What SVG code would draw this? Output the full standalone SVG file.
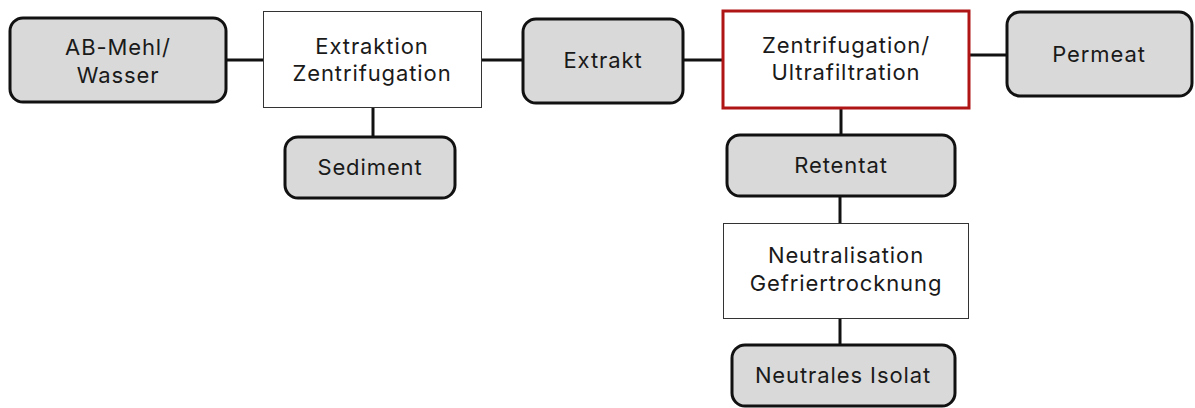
<svg xmlns="http://www.w3.org/2000/svg" width="1195" height="408" viewBox="0 0 1195 408">
<style>
.r{fill:#d9d9d9;stroke:#111;stroke-width:3}
.b{fill:#fff;stroke:#333;stroke-width:1}
.red{fill:#fff;stroke:#b01515;stroke-width:3}
text{font-family:Inter,"Open Sans",sans-serif;font-size:22px;letter-spacing:0.9px;fill:#1a1a1a;text-anchor:middle}
.c line{stroke:#111;stroke-width:3}
</style>
<rect width="1195" height="408" fill="#fff"/>
<g class="c" id="connectors">
<line x1="226" y1="60" x2="263" y2="60"/>
<line x1="482" y1="60" x2="523" y2="60"/>
<line x1="683" y1="60" x2="723" y2="60"/>
<line x1="969" y1="55" x2="1007" y2="55"/>
<line x1="373" y1="107" x2="373" y2="137"/>
<line x1="841" y1="108" x2="841" y2="135"/>
<line x1="840" y1="196" x2="840" y2="223"/>
<line x1="840" y1="318" x2="840" y2="345"/>
</g>
<g id="n1"><rect class="r" x="10" y="18" width="216" height="84" rx="13"/><text x="118" y="55">AB-Mehl/</text><text x="118" y="83">Wasser</text></g>
<g id="n2"><rect class="b" x="263.5" y="11.5" width="218" height="96"/><text x="372" y="54">Extraktion</text><text x="372" y="81">Zentrifugation</text></g>
<g id="n3"><rect class="r" x="285" y="137" width="170" height="61" rx="13"/><text x="370" y="175">Sediment</text></g>
<g id="n4"><rect class="r" x="523" y="19" width="160" height="84" rx="13"/><text x="603" y="68">Extrakt</text></g>
<g id="n5"><rect class="red" x="723" y="11" width="246" height="97"/><text x="846" y="53">Zentrifugation/</text><text x="846" y="80">Ultrafiltration</text></g>
<g id="n6"><rect class="r" x="1007" y="12" width="185" height="84" rx="13"/><text x="1099" y="62">Permeat</text></g>
<g id="n7"><rect class="r" x="727" y="135" width="228" height="61" rx="13"/><text x="841" y="173">Retentat</text></g>
<g id="n8"><rect class="b" x="723.5" y="223.5" width="245" height="95"/><text x="846" y="263">Neutralisation</text><text x="846" y="291">Gefriertrocknung</text></g>
<g id="n9"><rect class="r" x="732" y="345" width="223" height="61" rx="13"/><text x="843" y="383">Neutrales Isolat</text></g>
</svg>
